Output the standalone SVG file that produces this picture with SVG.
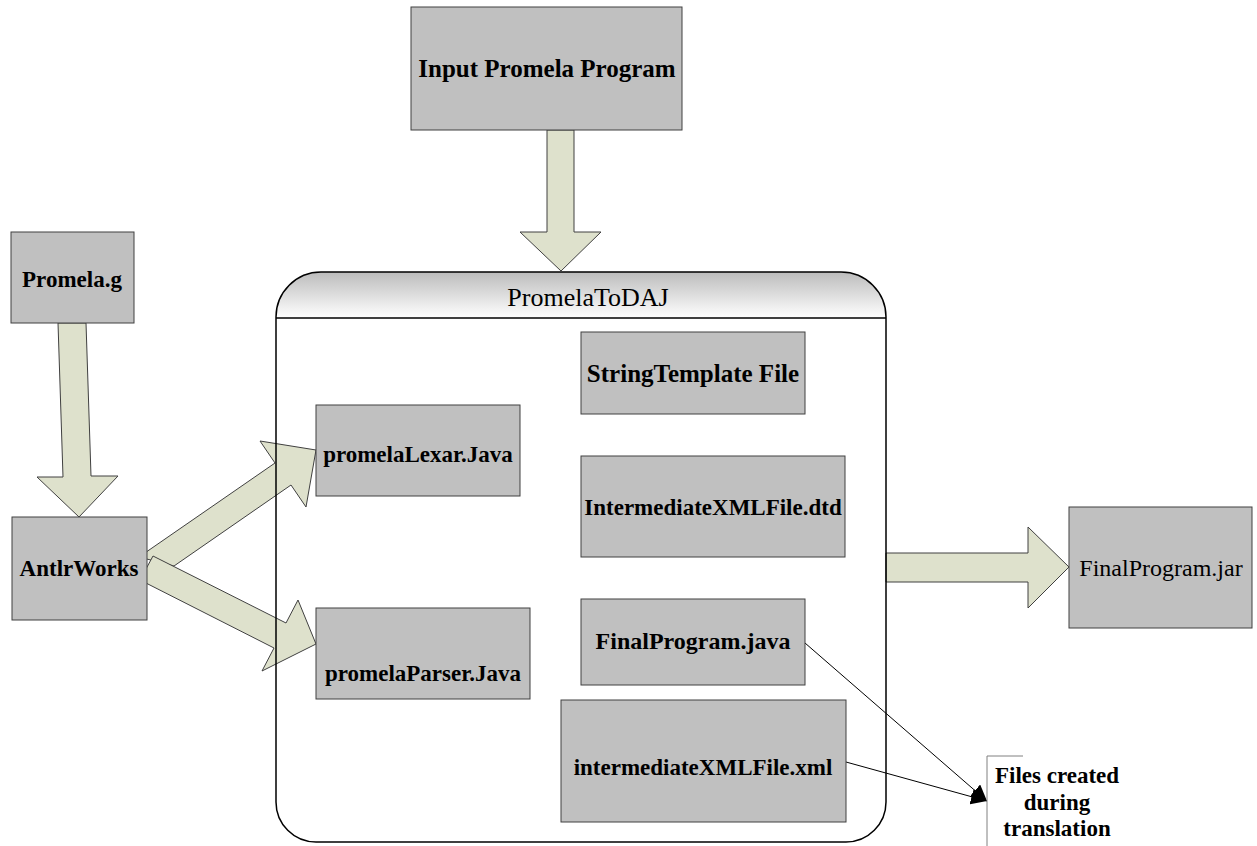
<svg xmlns="http://www.w3.org/2000/svg" width="1257" height="846" viewBox="0 0 1257 846">
<style>
.box{fill:#c0c0c0;stroke:#404040;stroke-width:1}
.lbl{font-family:"Liberation Serif","Times New Roman",serif;font-size:23px;font-weight:bold;fill:#000;text-anchor:middle;dominant-baseline:central}
.reg{font-weight:normal}
.big{font-size:25px}
.mid{font-size:24px}
.fat{fill:#dee1cc;stroke:#404040;stroke-width:1}
.thin{fill:none;stroke:#000;stroke-width:1}
</style>
<defs>
<linearGradient id="hdr" x1="0" y1="0" x2="0" y2="1">
<stop offset="0" stop-color="#bcbcbc"/>
<stop offset="1" stop-color="#ffffff"/>
</linearGradient>
<marker id="tri" viewBox="0 0 10 10" refX="10" refY="5" markerWidth="16" markerHeight="16" markerUnits="userSpaceOnUse" orient="auto">
<path d="M0,0 L10,5 L0,10 Z" fill="#000"/>
</marker>
</defs>
<rect width="1257" height="846" fill="#fff"/>

<g id="connectors">
<polygon class="fat" points="547,130 547,232 520,232 561,271 601,232 574,232 574,130"/>
<polygon class="fat" points="58,323 63,477 37,477 79,517 118,476 91,476 86,323"/>
<polygon class="fat" points="139,557 275,463 260,441 316,450 306,507 291,485 174,566"/>
<polygon class="fat" points="153,556 286,623 298,600 316,644 262,671 274,648 140,580"/>
<polygon class="fat" points="886,553 1028,553 1028,527 1069,567 1028,608 1028,582 886,582"/>
<line class="thin" x1="805" y1="643" x2="987" y2="801" marker-end="url(#tri)"/>
<line class="thin" x1="846" y1="762" x2="987" y2="801" marker-end="url(#tri)"/>
</g>

<g id="container">
<path d="M276,318 L276,317 A45,45 0 0 1 321,272 L841,272 A45,45 0 0 1 886,317 L886,318 Z" fill="url(#hdr)"/>
<path d="M276,317 A45,45 0 0 1 321,272 L841,272 A45,45 0 0 1 886,317 L886,802 A40,40 0 0 1 846,842 L316,842 A40,40 0 0 1 276,802 Z" fill="none" stroke="#000" stroke-width="1.5"/>
<line x1="276" y1="318" x2="886" y2="318" stroke="#000" stroke-width="1.5"/>
<text class="lbl reg" x="588" y="297" style="font-size:26px">PromelaToDAJ</text>
</g>

<g id="input"><rect class="box" x="411" y="7" width="271" height="123"/><text class="lbl big" x="547" y="68">Input Promela Program</text></g>
<g id="promela-g"><rect class="box" x="11" y="232" width="123" height="91"/><text class="lbl" x="72" y="279">Promela.g</text></g>
<g id="antlrworks"><rect class="box" x="12" y="517" width="135" height="103"/><text class="lbl" x="79" y="568">AntlrWorks</text></g>
<g id="stringtemplate"><rect class="box" x="581" y="332" width="224" height="82"/><text class="lbl big" x="693" y="373">StringTemplate File</text></g>
<g id="lexar"><rect class="box" x="316" y="405" width="204" height="91"/><text class="lbl" x="418" y="454">promelaLexar.Java</text></g>
<g id="dtd"><rect class="box" x="581" y="456" width="264" height="101"/><text class="lbl" x="713" y="507">IntermediateXMLFile.dtd</text></g>
<g id="parser"><rect class="box" x="316" y="608" width="214" height="91"/><text class="lbl" x="423" y="673">promelaParser.Java</text></g>
<g id="finaljava"><rect class="box" x="581" y="599" width="224" height="86"/><text class="lbl mid" x="693" y="641">FinalProgram.java</text></g>
<g id="xml"><rect class="box" x="561" y="700" width="285" height="122"/><text class="lbl" x="703" y="767">intermediateXMLFile.xml</text></g>
<g id="jar"><rect class="box" x="1069" y="507" width="183" height="121"/><text class="lbl reg mid" x="1161" y="568">FinalProgram.jar</text></g>
<g id="files">
<path d="M1023,756 L987,756 L987,846" fill="none" stroke="#808080" stroke-width="1"/>
<text class="lbl" x="1057" y="775">Files created</text>
<text class="lbl" x="1057" y="802">during</text>
<text class="lbl" x="1057" y="828">translation</text>
</g>
</svg>
